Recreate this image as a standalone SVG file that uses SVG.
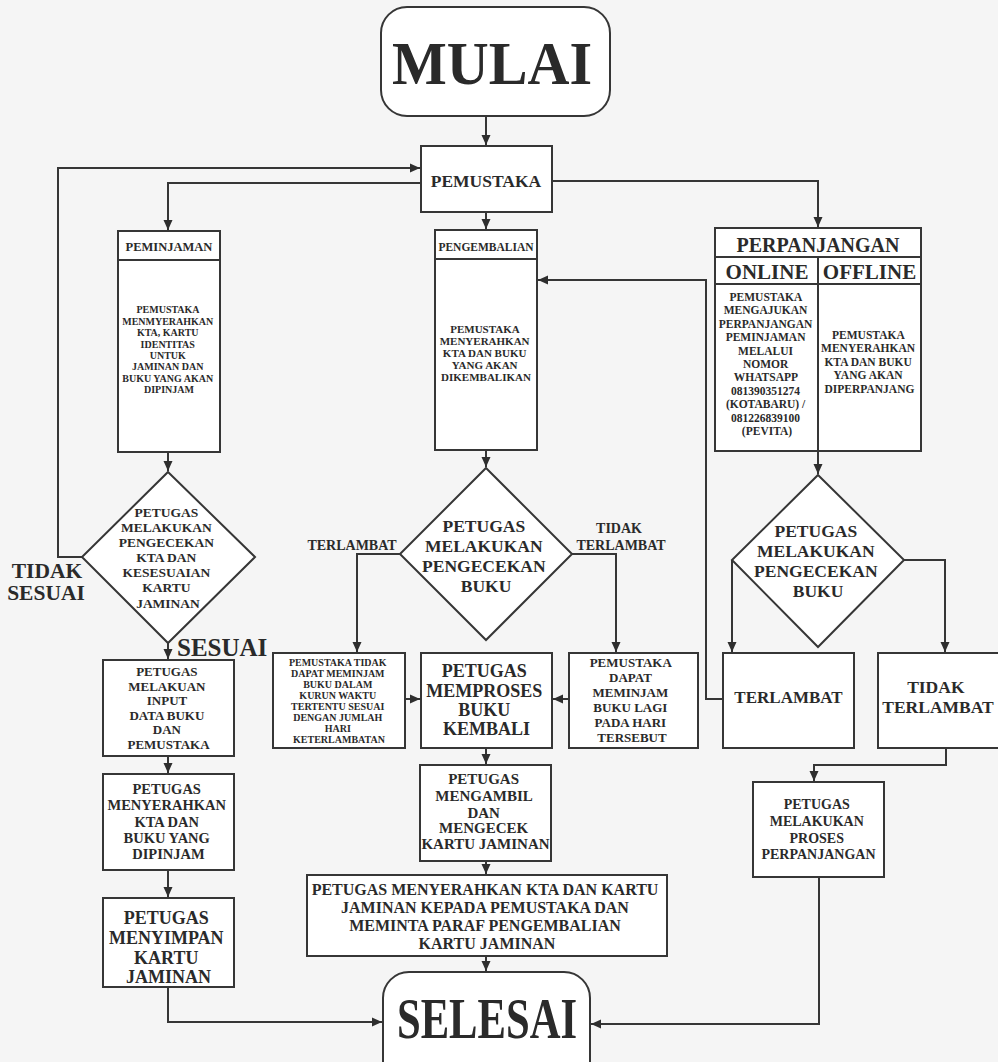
<svg xmlns="http://www.w3.org/2000/svg" width="998" height="1062" viewBox="0 0 998 1062">
<style>
.bx{fill:#fff;stroke:#363636;stroke-width:2}
.t{font-family:"Liberation Serif","Times New Roman",serif;font-weight:bold;fill:#2a2a2a;text-anchor:middle}
.ln{fill:none;stroke:#363636;stroke-width:2}
</style>
<defs>
<marker id="ah" viewBox="0 0 10 10" refX="10" refY="5" markerWidth="10" markerHeight="10" markerUnits="userSpaceOnUse" orient="auto"><path d="M0,0.5 L10,5 L0,9.5 z" fill="#2e2e2e"/></marker>
</defs>
<rect width="998" height="1062" fill="#f5f5f5"/>

<g id="connectors">
<path class="ln" marker-end="url(#ah)" d="M486,116 V145"/>
<path class="ln" marker-end="url(#ah)" d="M421,183 H168 V230"/>
<path class="ln" marker-end="url(#ah)" d="M486,212 V229"/>
<path class="ln" marker-end="url(#ah)" d="M552,181 H818 V227"/>
<path class="ln" marker-end="url(#ah)" d="M168,452 V471"/>
<path class="ln" marker-end="url(#ah)" d="M168,643 V659"/>
<path class="ln" marker-end="url(#ah)" d="M82,557 H58 V168 H420"/>
<path class="ln" marker-end="url(#ah)" d="M168,756 V773"/>
<path class="ln" marker-end="url(#ah)" d="M168,870 V897"/>
<path class="ln" marker-end="url(#ah)" d="M168,987 V1022 H382"/>
<path class="ln" marker-end="url(#ah)" d="M486,450 V467"/>
<path class="ln" marker-end="url(#ah)" d="M400,554 H357 V652"/>
<path class="ln" marker-end="url(#ah)" d="M572,554 H616 V652"/>
<path class="ln" marker-end="url(#ah)" d="M405,699 H420"/>
<path class="ln" marker-end="url(#ah)" d="M569,699 H553"/>
<path class="ln" marker-end="url(#ah)" d="M486,748 V764"/>
<path class="ln" marker-end="url(#ah)" d="M486,861 V874"/>
<path class="ln" marker-end="url(#ah)" d="M486,956 V971"/>
<path class="ln" marker-end="url(#ah)" d="M818,451 V474"/>
<path class="ln" marker-end="url(#ah)" d="M732,560 V652"/>
<path class="ln" marker-end="url(#ah)" d="M904,560 H945 V652"/>
<path class="ln" marker-end="url(#ah)" d="M723,699 H706 V280 H538"/>
<path class="ln" marker-end="url(#ah)" d="M946,748 V765 H814 V781"/>
<path class="ln" marker-end="url(#ah)" d="M819,877 V1024 H591"/>
</g>

<g id="mulai">
<rect class="bx" x="381" y="7" width="229" height="109" rx="26"/>
<text class="t" x="492" y="84" font-size="62" textLength="200" lengthAdjust="spacingAndGlyphs">MULAI</text>
</g>

<g id="pemustaka">
<rect class="bx" x="421" y="146" width="131" height="66"/>
<text class="t" x="486" y="187" font-size="17.5">PEMUSTAKA</text>
</g>

<g id="peminjaman">
<rect class="bx" x="118" y="231" width="102" height="221"/>
<line class="ln" x1="118" y1="260" x2="220" y2="260"/>
<text class="t" x="169" y="251" font-size="12.5">PEMINJAMAN</text>
<text class="t" font-size="10">
<tspan x="169" y="313">PEMUSTAKA</tspan>
<tspan x="169" y="324.5">MENMYERAHKAN</tspan>
<tspan x="169" y="336">KTA, KARTU</tspan>
<tspan x="169" y="347.5">IDENTITAS</tspan>
<tspan x="169" y="358.5">UNTUK</tspan>
<tspan x="169" y="370">JAMINAN DAN</tspan>
<tspan x="169" y="381.5">BUKU YANG AKAN</tspan>
<tspan x="169" y="392.5">DIPINJAM</tspan>
</text>
</g>

<g id="pengembalian">
<rect class="bx" x="435" y="230" width="102" height="220"/>
<line class="ln" x1="435" y1="259" x2="537" y2="259"/>
<text class="t" x="486" y="251" font-size="11.5">PENGEMBALIAN</text>
<text class="t" font-size="11">
<tspan x="486" y="333">PEMUSTAKA</tspan>
<tspan x="486" y="345">MENYERAHKAN</tspan>
<tspan x="486" y="357">KTA DAN BUKU</tspan>
<tspan x="486" y="369">YANG AKAN</tspan>
<tspan x="486" y="381">DIKEMBALIKAN</tspan>
</text>
</g>

<g id="perpanjangan">
<rect class="bx" x="715" y="228" width="206" height="223"/>
<line class="ln" x1="715" y1="257" x2="921" y2="257"/>
<line class="ln" x1="715" y1="284" x2="921" y2="284"/>
<line class="ln" x1="818" y1="257" x2="818" y2="451"/>
<text class="t" x="818" y="252" font-size="20">PERPANJANGAN</text>
<text class="t" x="767" y="279" font-size="21">ONLINE</text>
<text class="t" x="869.5" y="279" font-size="21">OFFLINE</text>
<text class="t" font-size="11.5">
<tspan x="767" y="301">PEMUSTAKA</tspan>
<tspan x="767" y="314.4">MENGAJUKAN</tspan>
<tspan x="767" y="327.8">PERPANJANGAN</tspan>
<tspan x="767" y="341.2">PEMINJAMAN</tspan>
<tspan x="767" y="354.6">MELALUI</tspan>
<tspan x="767" y="368">NOMOR</tspan>
<tspan x="767" y="381.4">WHATSAPP</tspan>
<tspan x="767" y="394.8">081390351274</tspan>
<tspan x="767" y="408.2">(KOTABARU) /</tspan>
<tspan x="767" y="421.6">081226839100</tspan>
<tspan x="767" y="435">(PEVITA)</tspan>
</text>
<text class="t" font-size="11.5">
<tspan x="869.5" y="338.5">PEMUSTAKA</tspan>
<tspan x="869.5" y="352">MENYERAHKAN</tspan>
<tspan x="869.5" y="365.5">KTA DAN BUKU</tspan>
<tspan x="869.5" y="379">YANG AKAN</tspan>
<tspan x="869.5" y="392.5">DIPERPANJANG</tspan>
</text>
</g>

<g id="cek-kta">
<polygon class="bx" points="168,472 255,557 168,643 82,557"/>
<text class="t" font-size="13.5">
<tspan x="168" y="517">PETUGAS</tspan>
<tspan x="168" y="532">MELAKUKAN</tspan>
<tspan x="168" y="547">PENGECEKAN</tspan>
<tspan x="168" y="562">KTA DAN</tspan>
<tspan x="168" y="577">KESESUAIAN</tspan>
<tspan x="168" y="592">KARTU</tspan>
<tspan x="168" y="608">JAMINAN</tspan>
</text>
</g>

<g id="labels-left">
<text class="t" x="47" y="578" font-size="21.5">TIDAK</text>
<text class="t" x="46" y="600" font-size="21.5">SESUAI</text>
<text class="t" x="177" y="656" font-size="25" style="text-anchor:start">SESUAI</text>
</g>

<g id="input-data">
<rect class="bx" x="103" y="660" width="131" height="96"/>
<text class="t" font-size="13">
<tspan x="168.5" y="676">PETUGAS</tspan>
<tspan x="168.5" y="690.5">MELAKUAN</tspan>
<tspan x="168.5" y="705">INPUT</tspan>
<tspan x="168.5" y="719.5">DATA BUKU</tspan>
<tspan x="168.5" y="734">DAN</tspan>
<tspan x="168.5" y="749">PEMUSTAKA</tspan>
</text>
</g>

<g id="serah-pinjam">
<rect class="bx" x="103" y="774" width="131" height="96"/>
<text class="t" font-size="14.5">
<tspan x="168.5" y="794">PETUGAS</tspan>
<tspan x="168.5" y="810.3">MENYERAHKAN</tspan>
<tspan x="168.5" y="826.6">KTA DAN</tspan>
<tspan x="168.5" y="842.9">BUKU YANG</tspan>
<tspan x="168.5" y="859">DIPINJAM</tspan>
</text>
</g>

<g id="simpan-kartu">
<rect class="bx" x="103" y="898" width="131" height="89"/>
<text class="t" font-size="18">
<tspan x="168.5" y="924">PETUGAS</tspan>
<tspan x="168.5" y="944">MENYIMPAN</tspan>
<tspan x="168.5" y="964">KARTU</tspan>
<tspan x="168.5" y="983">JAMINAN</tspan>
</text>
</g>

<g id="cek-buku-kembali">
<polygon class="bx" points="486,468 572,554 486,640 400,554"/>
<text class="t" font-size="17.5">
<tspan x="486" y="532">PETUGAS</tspan>
<tspan x="486" y="552">MELAKUKAN</tspan>
<tspan x="486" y="572">PENGECEKAN</tspan>
<tspan x="486" y="592">BUKU</tspan>
</text>
</g>

<g id="labels-mid">
<text class="t" x="352" y="550" font-size="14">TERLAMBAT</text>
<text class="t" x="619" y="533" font-size="14">TIDAK</text>
<text class="t" x="621" y="550" font-size="14">TERLAMBAT</text>
</g>

<g id="tidak-dapat">
<rect class="bx" x="273" y="653" width="132" height="95"/>
<text class="t" font-size="10">
<tspan x="339" y="666">PEMUSTAKA TIDAK</tspan>
<tspan x="339" y="677">DAPAT MEMINJAM</tspan>
<tspan x="339" y="688">BUKU DALAM</tspan>
<tspan x="339" y="699">KURUN WAKTU</tspan>
<tspan x="339" y="710">TERTENTU SESUAI</tspan>
<tspan x="339" y="721">DENGAN JUMLAH</tspan>
<tspan x="339" y="732">HARI</tspan>
<tspan x="339" y="743">KETERLAMBATAN</tspan>
</text>
</g>

<g id="memproses">
<rect class="bx" x="421" y="653" width="131" height="95"/>
<text class="t" font-size="18">
<tspan x="486.5" y="677">PETUGAS</tspan>
<tspan x="486.5" y="696.5">MEMPROSES</tspan>
<tspan x="486.5" y="716">BUKU</tspan>
<tspan x="486.5" y="734.5">KEMBALI</tspan>
</text>
</g>

<g id="dapat-pinjam">
<rect class="bx" x="569" y="653" width="129" height="95"/>
<text class="t" font-size="13">
<tspan x="632" y="667">PEMUSTAKA</tspan>
<tspan x="632" y="682">DAPAT</tspan>
<tspan x="632" y="697">MEMINJAM</tspan>
<tspan x="632" y="712">BUKU LAGI</tspan>
<tspan x="632" y="727">PADA HARI</tspan>
<tspan x="632" y="742">TERSEBUT</tspan>
</text>
</g>

<g id="mengambil">
<rect class="bx" x="420" y="765" width="131" height="96"/>
<text class="t" font-size="15">
<tspan x="485.5" y="784">PETUGAS</tspan>
<tspan x="485.5" y="801">MENGAMBIL</tspan>
<tspan x="485.5" y="817.5">DAN</tspan>
<tspan x="485.5" y="833">MENGECEK</tspan>
<tspan x="485.5" y="848.5">KARTU JAMINAN</tspan>
</text>
</g>

<g id="serah-kembali">
<rect class="bx" x="307" y="875" width="360" height="81"/>
<text class="t" font-size="16">
<tspan x="487" y="895">PETUGAS MENYERAHKAN KTA DAN KARTU</tspan>
<tspan x="487" y="913">JAMINAN KEPADA PEMUSTAKA DAN</tspan>
<tspan x="487" y="931">MEMINTA PARAF PENGEMBALIAN</tspan>
<tspan x="487" y="948.5">KARTU JAMINAN</tspan>
</text>
</g>

<g id="cek-buku-panjang">
<polygon class="bx" points="818,475 904,560 818,647 732,560"/>
<text class="t" font-size="17.5">
<tspan x="818" y="537">PETUGAS</tspan>
<tspan x="818" y="557">MELAKUKAN</tspan>
<tspan x="818" y="577">PENGECEKAN</tspan>
<tspan x="818" y="597">BUKU</tspan>
</text>
</g>

<g id="terlambat">
<rect class="bx" x="723" y="653" width="131" height="95"/>
<text class="t" x="788.5" y="703" font-size="17">TERLAMBAT</text>
</g>

<g id="tidak-terlambat">
<rect class="bx" x="878" y="653" width="140" height="95"/>
<text class="t" font-size="17.5">
<tspan x="938" y="693">TIDAK</tspan>
<tspan x="938" y="713">TERLAMBAT</tspan>
</text>
</g>

<g id="proses-panjang">
<rect class="bx" x="753" y="782" width="131" height="95"/>
<text class="t" font-size="14">
<tspan x="818.5" y="809">PETUGAS</tspan>
<tspan x="818.5" y="826">MELAKUKAN</tspan>
<tspan x="818.5" y="842.5">PROSES</tspan>
<tspan x="818.5" y="859">PERPANJANGAN</tspan>
</text>
</g>

<g id="selesai">
<rect class="bx" x="383" y="972" width="207" height="120" rx="26"/>
<text class="t" x="487" y="1038" font-size="56" textLength="180" lengthAdjust="spacingAndGlyphs">SELESAI</text>
</g>
</svg>
